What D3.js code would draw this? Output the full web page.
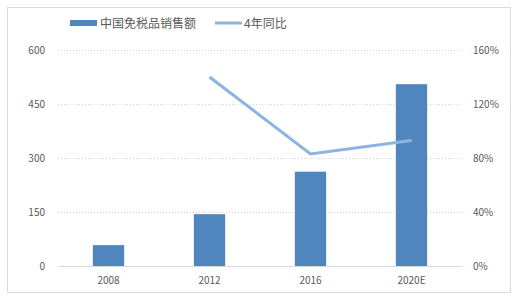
<!DOCTYPE html>
<html>
<head>
<meta charset="utf-8">
<script src="https://d3js.org/d3.v7.min.js"></script>
<style>
    body { margin: 0; background: #fff; }
    svg text { font-family: "Noto Sans CJK SC", "Liberation Sans", sans-serif; fill: #595959; }
</style>
</head>
<body>
<div id="chart"></div>
<script>
    // data
    const years = ["2008", "2012", "2016", "2020E"];
    const sales = [58, 144, 262, 505];
    const growth = [null, 140, 83, 93];
    const leftTicks = [0, 150, 300, 450, 600];
    const rightTicks = [0, 40, 80, 120, 160];

    const W = 520, H = 299;
    const svg = d3.select("#chart").append("svg")
        .attr("width", W).attr("height", H);

    // outer frame
    svg.append("rect")
        .attr("x", 7.5).attr("y", 7.5)
        .attr("width", 503).attr("height", 285)
        .attr("fill", "#fff").attr("stroke", "#d9d9d9");

    const x = d3.scaleBand().domain(years).range([58, 462])
        .paddingInner(0.69).paddingOuter(0.345);
    const yL = d3.scaleLinear().domain([0, 600]).range([266, 50]);
    const yR = d3.scaleLinear().domain([0, 160]).range([266, 50]);

    // gridlines
    svg.append("g").selectAll("line")
        .data(leftTicks.filter(d => d > 0))
        .join("line")
        .attr("x1", 58).attr("x2", 462)
        .attr("y1", d => yL(d) + 0.5).attr("y2", d => yL(d) + 0.5)
        .attr("stroke", "#d0d0d0").attr("stroke-dasharray", "1,2");

    // left axis
    const axL = svg.append("g").attr("transform", "translate(58,0)")
        .call(d3.axisLeft(yL).tickValues(leftTicks).tickSize(0).tickPadding(13));
    axL.select(".domain").remove();
    axL.selectAll("text").style("font-size", "10px");

    // right axis
    const axR = svg.append("g").attr("transform", "translate(462,0)")
        .call(d3.axisRight(yR).tickValues(rightTicks).tickSize(0).tickPadding(11)
            .tickFormat(d => d + "%"));
    axR.select(".domain").remove();
    axR.selectAll("text").style("font-size", "10px");

    // bars
    svg.append("g").selectAll("rect")
        .data(years)
        .join("rect")
        .attr("x", d => x(d))
        .attr("y", (d, i) => yL(sales[i]))
        .attr("width", x.bandwidth())
        .attr("height", (d, i) => yL(0) - yL(sales[i]))
        .attr("fill", "#4f86bd");

    // x axis
    const axB = svg.append("g").attr("transform", "translate(0,266)")
        .call(d3.axisBottom(x).tickSize(0).tickPadding(11));
    axB.select(".domain").attr("stroke", "#d9d9d9");
    axB.selectAll("text").style("font-size", "10px");

    // growth line
    const pts = years.map((d, i) => [d, growth[i]]).filter(p => p[1] !== null);
    svg.append("path")
        .datum(pts)
        .attr("fill", "none")
        .attr("stroke", "#8db3e2")
        .attr("stroke-width", 3)
        .attr("d", d3.line()
            .x(p => x(p[0]) + x.bandwidth() / 2)
            .y(p => yR(p[1])));

    // legend
    const lg = svg.append("g");
    lg.append("rect").attr("x", 70).attr("y", 20).attr("width", 27).attr("height", 6)
        .attr("fill", "#4f86bd");
    lg.append("text").attr("x", 100).attr("y", 27.5).style("font-size", "12px")
        .text("中国免税品销售额");
    lg.append("line").attr("x1", 215).attr("x2", 242).attr("y1", 23).attr("y2", 23)
        .attr("stroke", "#8db3e2").attr("stroke-width", 3);
    lg.append("text").attr("x", 244).attr("y", 27.5).style("font-size", "12px")
        .text("4年同比");
</script>
</body>
</html>
